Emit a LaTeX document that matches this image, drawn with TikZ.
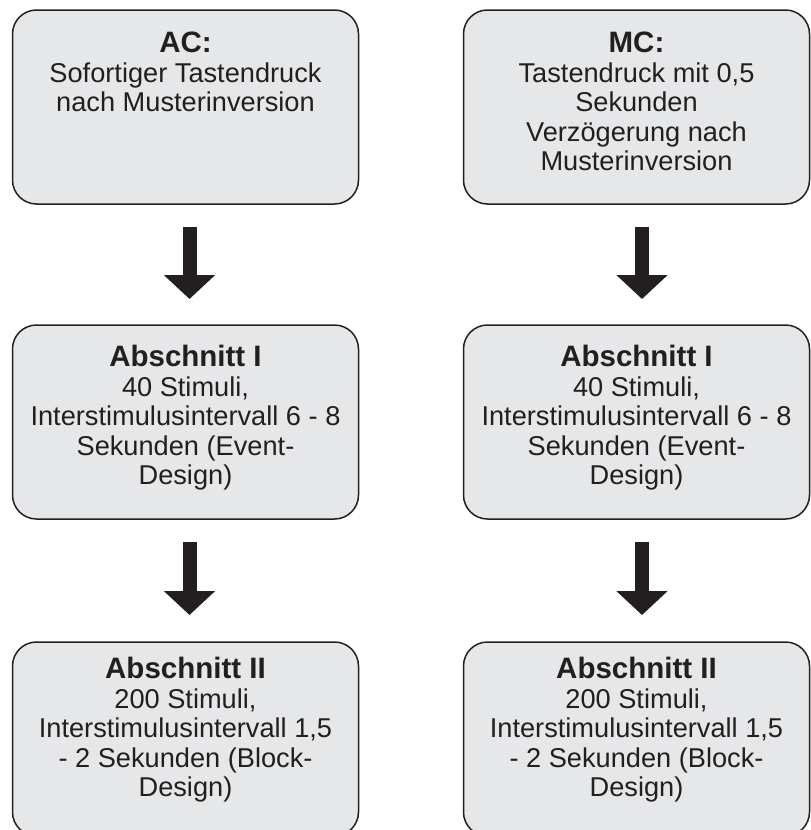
\documentclass[tikz,border=0pt]{standalone}
\usepackage{fontspec}
\setmainfont{Liberation Sans}
\usetikzlibrary{arrows.meta}
\definecolor{boxfill}{HTML}{E6E7E8}
\definecolor{ink}{HTML}{231F20}
\tikzset{
  flowbox/.style={draw=ink, line width=1.5pt, fill=boxfill, rounded corners=24pt,
    minimum width=346pt, minimum height=194pt, inner sep=0pt, outer sep=0pt},
  boxtext/.style={anchor=north, align=center, inner sep=0pt, text=ink,
    font=\fontsize{27.2}{29.5}\selectfont},
  bigarrow/.style={draw=ink, line width=14pt, -{Triangle[length=24pt,width=50pt]}}
}
\newcommand{\firstline}{\rule{0pt}{20pt}}
\newcommand{\boxtitle}[1]{{\fontsize{29.5}{29.5}\selectfont\bfseries #1}}
\begin{document}
\begin{tikzpicture}[x=1pt,y=-1pt]
\useasboundingbox (0,0) rectangle (811,830);
% boxes
\node[flowbox] (ac)  at (185.5,107) {};
\node[flowbox] (mc)  at (636.5,107) {};
\node[flowbox] (ac1) at (185.5,422) {};
\node[flowbox] (mc1) at (636.5,422) {};
\node[flowbox] (ac2) at (185.5,739) {};
\node[flowbox] (mc2) at (636.5,739) {};
% texts
\node[boxtext] (tac) at (185.5,32) {\firstline\boxtitle{AC:}\\Sofortiger Tastendruck\\nach Musterinversion};
\node[boxtext] (tmc) at (636.5,32) {\firstline\boxtitle{MC:}\\Tastendruck mit 0,5\\Sekunden\\Verzögerung nach\\Musterinversion};
\node[boxtext] (tac1) at (185.5,345) {\firstline\boxtitle{Abschnitt I}\\40 Stimuli,\\Interstimulusintervall 6 - 8\\Sekunden (Event-\\Design)};
\node[boxtext] (tmc1) at (636.5,345) {\firstline\boxtitle{Abschnitt I}\\40 Stimuli,\\Interstimulusintervall 6 - 8\\Sekunden (Event-\\Design)};
\node[boxtext] (tac2) at (185.5,657) {\firstline\boxtitle{Abschnitt II}\\200 Stimuli,\\Interstimulusintervall 1,5\\- 2 Sekunden (Block-\\Design)};
\node[boxtext] (tmc2) at (636.5,657) {\firstline\boxtitle{Abschnitt II}\\200 Stimuli,\\Interstimulusintervall 1,5\\- 2 Sekunden (Block-\\Design)};
% arrows
\coordinate (a1s) at (189.5,227);
\coordinate (a1e) at (189.5,299);
\coordinate (m1s) at (642,227);
\coordinate (m1e) at (642,299);
\coordinate (a2s) at (189.5,542);
\coordinate (a2e) at (189.5,615);
\coordinate (m2s) at (642,542);
\coordinate (m2e) at (642,615);
\draw[bigarrow] (a1s) -- (a1e);
\draw[bigarrow] (m1s) -- (m1e);
\draw[bigarrow] (a2s) -- (a2e);
\draw[bigarrow] (m2s) -- (m2e);
\end{tikzpicture}
\end{document}
